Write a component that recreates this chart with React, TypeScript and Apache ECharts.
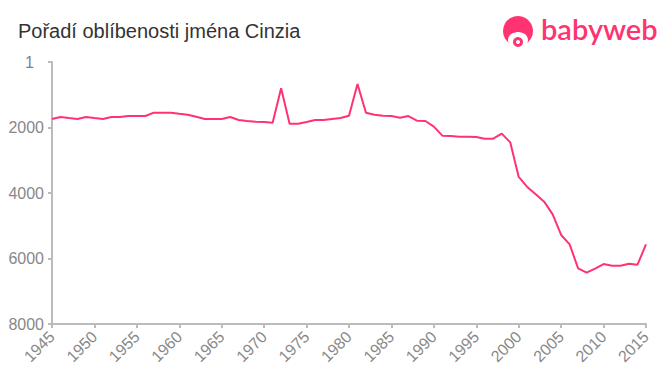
import React, { useEffect, useRef } from "react";
import * as echarts from "echarts";

const years: number[] = [
  1945, 1946, 1947, 1948, 1949, 1950, 1951, 1952, 1953, 1954, 1955, 1956, 1957, 1958, 1959,
  1960, 1961, 1962, 1963, 1964, 1965, 1966, 1967, 1968, 1969, 1970, 1971, 1972, 1973, 1974,
  1975, 1976, 1977, 1978, 1979, 1980, 1981, 1982, 1983, 1984, 1985, 1986, 1987, 1988, 1989,
  1990, 1991, 1992, 1993, 1994, 1995, 1996, 1997, 1998, 1999, 2000, 2001, 2002, 2003, 2004,
  2005, 2006, 2007, 2008, 2009, 2010, 2011, 2012, 2013, 2014, 2015,
];
const ranks: number[] = [
  1740, 1679, 1710, 1740, 1679, 1710, 1740, 1679, 1679, 1649, 1649, 1649, 1547, 1547, 1547,
  1580, 1608, 1670, 1740, 1740, 1740, 1679, 1771, 1802, 1822, 1832, 1852, 804, 1883, 1883,
  1832, 1771, 1771, 1740, 1710, 1640, 672, 1547, 1608, 1640, 1649, 1700, 1649, 1791, 1802,
  1975, 2250, 2260, 2280, 2280, 2290, 2341, 2341, 2188, 2453, 3510, 3815, 4035, 4265, 4652,
  5282, 5567, 6300, 6433, 6310, 6168, 6219, 6219, 6158, 6189, 5567,
];
const titleText = "Pořadí oblíbenosti jména Cinzia";
const brandText = "babyweb";

export default function App() {
  const ref = useRef<HTMLDivElement>(null);
  useEffect(() => {
    document.body.style.margin = "0";
    if (!ref.current) return;
    const chart = echarts.init(ref.current, null, { renderer: "svg" });
    const pink = "#ff3370";
    chart.setOption({
      animation: false,
      grid: { left: 52, right: 14, top: 62, bottom: 51, containLabel: false },
      graphic: [
        {
          type: "text",
          left: 18,
          top: 21,
          style: { text: titleText, fontSize: 20, fill: "#333", fontFamily: "Liberation Sans, Arial, sans-serif" },
        },
        { type: "circle", shape: { cx: 518, cy: 31, r: 15 }, style: { fill: pink } },
        { type: "ellipse", shape: { cx: 518, cy: 40, rx: 10, ry: 8 }, style: { fill: "#fff" } },
        { type: "circle", shape: { cx: 518, cy: 42, r: 5 }, style: { fill: pink } },
        { type: "circle", shape: { cx: 518, cy: 42, r: 2 }, style: { fill: "#fff" } },
        {
          type: "text",
          left: 541,
          top: 14,
          style: { text: brandText, fontSize: 29, fontWeight: 600, fill: pink, fontFamily: "Lato, Open Sans, sans-serif" },
        },
      ],
      xAxis: {
        type: "value",
        min: 1945,
        max: 2015,
        interval: 5,
        splitLine: { show: false },
        axisLine: { onZero: false, lineStyle: { color: "#bbb", width: 2 } },
        axisTick: { show: true, length: 4, lineStyle: { color: "#bbb", width: 2 } },
        axisLabel: {
          rotate: 45,
          fontSize: 16,
          color: "#888",
          margin: 10,
          fontFamily: "Liberation Sans, Arial, sans-serif",
          formatter: (v: number) => String(v),
        },
      },
      yAxis: {
        type: "value",
        inverse: true,
        min: 0,
        max: 8000,
        interval: 2000,
        splitLine: { show: false },
        axisLine: { show: true, onZero: false, lineStyle: { color: "#bbb", width: 2 } },
        axisTick: { show: true, length: 4, lineStyle: { color: "#bbb", width: 2 } },
        axisLabel: {
          fontSize: 16,
          color: "#888",
          margin: 8,
          fontFamily: "Liberation Sans, Arial, sans-serif",
          formatter: (v: number) => (v === 0 ? "{one|1}" : String(v)),
          rich: { one: { fontSize: 16, color: "#7a8299", padding: [0, 10, 0, 0] } },
        },
      },
      series: [
        {
          type: "line",
          data: years.map((y, i) => [y, ranks[i]]),
          showSymbol: false,
          lineStyle: { color: pink, width: 2 },
          itemStyle: { color: pink },
        },
      ],
    });
    return () => chart.dispose();
  }, []);
  return <div ref={ref} style={{ width: 660, height: 375 }} />;
}
